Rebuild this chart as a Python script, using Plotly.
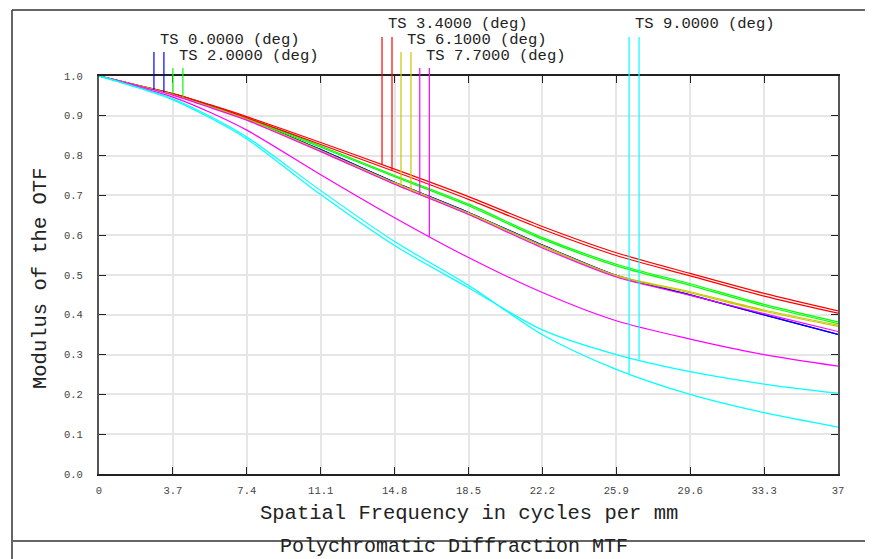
import numpy as np
import plotly.graph_objects as go

# ---------------- data ----------------
freq = [0, 1.85, 3.7, 5.55, 7.4, 11.1, 14.8, 18.5, 22.2, 25.9, 29.6, 33.3, 37]

mtf_00_T = [1, 0.977, 0.954, 0.924, 0.892, 0.815, 0.733, 0.657, 0.575, 0.499, 0.450, 0.400, 0.351]
mtf_00_S = [1, 0.977, 0.954, 0.924, 0.892, 0.815, 0.733, 0.657, 0.575, 0.499, 0.450, 0.400, 0.351]
mtf_20_T = [1, 0.978, 0.956, 0.927, 0.895, 0.824, 0.750, 0.678, 0.594, 0.527, 0.478, 0.426, 0.382]
mtf_20_S = [1, 0.978, 0.955, 0.926, 0.893, 0.821, 0.747, 0.674, 0.590, 0.523, 0.474, 0.422, 0.378]
mtf_34_T = [1, 0.978, 0.956, 0.928, 0.898, 0.833, 0.766, 0.697, 0.622, 0.556, 0.504, 0.454, 0.410]
mtf_34_S = [1, 0.977, 0.955, 0.927, 0.895, 0.828, 0.760, 0.690, 0.615, 0.549, 0.498, 0.447, 0.404]
mtf_61_T = [1, 0.977, 0.953, 0.923, 0.891, 0.813, 0.732, 0.656, 0.574, 0.499, 0.458, 0.412, 0.374]
mtf_61_S = [1, 0.977, 0.953, 0.922, 0.890, 0.811, 0.729, 0.653, 0.571, 0.497, 0.455, 0.409, 0.371]
mtf_77_T = [1, 0.977, 0.952, 0.921, 0.889, 0.810, 0.728, 0.652, 0.568, 0.495, 0.449, 0.403, 0.358]
mtf_77_S = [1, 0.974, 0.947, 0.909, 0.864, 0.752, 0.644, 0.544, 0.456, 0.385, 0.339, 0.300, 0.271]
mtf_90_T = [1, 0.973, 0.943, 0.899, 0.847, 0.712, 0.584, 0.474, 0.350, 0.263, 0.200, 0.154, 0.118]
mtf_90_S = [1, 0.972, 0.940, 0.895, 0.842, 0.702, 0.574, 0.468, 0.362, 0.300, 0.257, 0.226, 0.203]

field_labels = ["TS 0.0000 (deg)", "TS 2.0000 (deg)", "TS 3.4000 (deg)",
                "TS 6.1000 (deg)", "TS 7.7000 (deg)", "TS 9.0000 (deg)"]
field_colors = ["#0000ff", "#00ff00", "#ff0000", "#c8c800", "#ff00ff", "#00ffff"]

x_ticks = [0, 3.7, 7.4, 11.1, 14.8, 18.5, 22.2, 25.9, 29.6, 33.3, 37]
x_tick_text = ["0", "3.7", "7.4", "11.1", "14.8", "18.5", "22.2", "25.9", "29.6", "33.3", "37"]
y_ticks = [0, 0.1, 0.2, 0.3, 0.4, 0.5, 0.6, 0.7, 0.8, 0.9, 1.0]

# legend marker positions (frequency of the T and S marker lines for each field)
legend_marker_x = [(2.75, 3.25), (3.70, 4.20), (14.17, 14.67),
                   (15.12, 15.62), (16.06, 16.54), (26.54, 27.04)]

series = [(mtf_00_T, mtf_00_S), (mtf_20_T, mtf_20_S), (mtf_34_T, mtf_34_S),
          (mtf_61_T, mtf_61_S), (mtf_77_T, mtf_77_S), (mtf_90_T, mtf_90_S)]

# ---------------- layout geometry ----------------
OFF = 8                      # page body margin of the html page
W, H = 873 - OFF, 559 - OFF
L = 99 - OFF
T = 76 - OFF
R = W - (838 - OFF)
B = H - (474 - OFF)
PW, PH = W - L - R, H - T - B


def px_x(p):
    """reference-screen x pixel -> paper coordinate"""
    return (p - OFF - L) / PW


def px_y(p):
    """reference-screen y pixel -> paper coordinate"""
    return (H - B - (p - OFF)) / PH


FONT = "Liberation Mono, Courier New, DejaVu Sans Mono, monospace"

fig = go.Figure()

for (t_vals, s_vals), col in zip(series, field_colors):
    for vals in (t_vals, s_vals):
        fig.add_trace(go.Scatter(
            x=freq, y=vals, mode="lines",
            line=dict(color=col, width=1.2, shape="spline", smoothing=0.8),
            showlegend=False, hoverinfo="skip"))

# label rows (top tier = 0)
tiers = [1, 2, 0, 1, 2, 0]
label_y = [px_y(24), px_y(40), px_y(56)]
line_top = [px_y(37), px_y(52), px_y(68)]

shapes = []
annotations = []
for i, ((t_vals, s_vals), col) in enumerate(zip(series, field_colors)):
    tier = tiers[i]
    for mx, vals in zip(legend_marker_x[i], (t_vals, s_vals)):
        yb = float(np.interp(mx, freq, vals))
        shapes.append(dict(type="line", xref="x", yref="paper", x0=mx, x1=mx,
                           y0=yb, y1=line_top[tier],
                           line=dict(color=col, width=1.2), layer="above"))
    annotations.append(dict(
        text=field_labels[i], xref="x", yref="paper",
        x=(legend_marker_x[i][0] + legend_marker_x[i][1]) / 2 - 0.05, y=label_y[tier],
        xanchor="left", yanchor="middle", showarrow=False,
        font=dict(family=FONT, size=15.5, color="#222")))

# frame lines
frame_col = "#333"
shapes.append(dict(type="line", xref="paper", yref="paper", x0=px_x(12), x1=px_x(873),
                   y0=px_y(10), y1=px_y(10), line=dict(color=frame_col, width=1.5)))
shapes.append(dict(type="line", xref="paper", yref="paper", x0=px_x(12), x1=px_x(12),
                   y0=px_y(10), y1=px_y(559), line=dict(color=frame_col, width=1.5)))
shapes.append(dict(type="line", xref="paper", yref="paper", x0=px_x(12), x1=px_x(873),
                   y0=px_y(541), y1=px_y(541), line=dict(color="#666", width=2)))

annotations.append(dict(text="Spatial Frequency in cycles per mm", xref="paper", yref="paper",
                        x=px_x(469), y=px_y(513), xanchor="center", yanchor="middle",
                        showarrow=False, font=dict(family=FONT, size=20.5, color="#222")))
annotations.append(dict(text="Modulus of the OTF", xref="paper", yref="paper",
                        x=px_x(40), y=px_y(279), xanchor="center", yanchor="middle",
                        textangle=-90, showarrow=False,
                        font=dict(family=FONT, size=20.5, color="#222")))
annotations.append(dict(text="Polychromatic Diffraction MTF", xref="paper", yref="paper",
                        x=px_x(454), y=px_y(558.5), xanchor="center", yanchor="bottom",
                        borderpad=0, showarrow=False,
                        font=dict(family=FONT, size=20, color="#222")))

axis_common = dict(showgrid=True, gridcolor="#e6e6e6", gridwidth=1.5,
                   ticks="inside", ticklen=7, tickwidth=1.2, tickcolor="#222",
                   mirror="ticks", showline=True, zeroline=False, automargin=False,
                   tickfont=dict(family=FONT, size=10.5, color="#444"))

fig.update_layout(
    width=W, height=H, template="none",
    margin=dict(l=L, r=R, t=T, b=B, pad=0),
    paper_bgcolor="white", plot_bgcolor="white",
    xaxis=dict(range=[0, 37], tickvals=x_ticks, ticktext=x_tick_text,
               linecolor="#222", linewidth=1.5, ticklabelstandoff=6, **axis_common),
    yaxis=dict(range=[0, 1], tickvals=y_ticks, tickformat=".1f",
               linecolor="#555", linewidth=2, ticklabelstandoff=12, **axis_common),
    shapes=shapes, annotations=annotations, showlegend=False,
)

fig.write_html("out.html")
